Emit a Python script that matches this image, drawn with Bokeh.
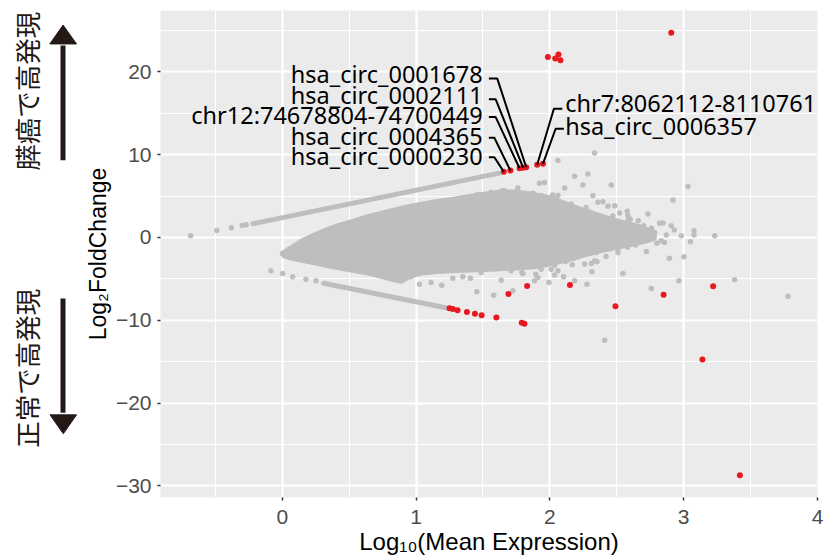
import numpy as np
from bokeh.plotting import figure
from bokeh.layouts import row
from bokeh.models import Range1d, FixedTicker
from bokeh.core.properties import value
from bokeh.embed import file_html
from bokeh.resources import INLINE

# ---------------- data ----------------
x_ticks = [0, 1, 2, 3, 4]
x_tick_labels = ["0", "1", "2", "3", "4"]
x_minor = [-0.5, 0.5, 1.5, 2.5, 3.5]
y_ticks = [-30, -20, -10, 0, 10, 20]
y_tick_labels = ["\u221230", "\u221220", "\u221210", "0", "10", "20"]
y_minor = [-25, -15, -5, 5, 15, 25]

# outline of the dense, overplotted part of the cloud (log10 mean, log2 FC)
cloud_x = [0.00, 0.05, 0.16, 0.29, 0.41, 0.54, 0.66, 0.79, 0.91, 1.04, 1.16, 1.29,
           1.40, 1.52, 1.64, 1.75, 1.88, 2.00, 2.13, 2.26, 2.38, 2.50, 2.62, 2.72, 2.78,
           2.78, 2.70, 2.60, 2.50, 2.38, 2.26, 2.13, 2.00, 1.90, 1.75, 1.60, 1.45, 1.30,
           1.16, 1.04, 0.95, 0.89, 0.86, 0.66, 0.41, 0.23, 0.14, 0.065, 0.015]
cloud_y = [-1.95, -1.40, -0.30, 0.65, 1.40, 2.00, 2.60, 3.10, 3.60, 4.00, 4.35, 4.65,
           4.95, 5.25, 5.50, 5.50, 5.20, 4.80, 4.00, 3.20, 2.60, 2.00, 1.50, 1.00, 0.50,
           -0.10, -0.50, -0.85, -1.20, -1.60, -2.10, -2.70, -3.20, -3.50, -3.70, -3.80, -3.90, -4.00,
           -4.10, -4.30, -4.70, -5.30, -5.20, -4.35, -3.63, -3.02, -2.74, -2.50, -2.20]

# the two "one-sided" bands (circRNAs detected in one group only)
band_x = [[-0.22, 1.64], [0.31, 1.24]]
band_y = [[1.65, 7.82], [-5.53, -8.55]]

grey_pts = [
    (-0.685, 0.20), (-0.49, 0.85), (-0.38, 1.18), (-0.30, 1.43), (-0.27, 1.52), (2.06, 9.29),
    (-0.085, -4.03), (0.003, -4.35), (0.078, -4.76), (0.177, -5.04), (0.252, -5.24),
    (0.003, -1.93), (0.02, -2.25), (0.065, -1.41), (0.08, -2.40),
    (1.46, 5.17), (1.56, 5.45), (1.636, 5.57), (1.66, 5.05), (1.656, 5.66), (1.76, 5.98),
    (1.922, 6.54), (1.96, 6.62), (2.11, 5.98), (2.06, 5.05), (1.935, 5.05), (1.86, 4.85),
    (1.77, 4.85), (1.873, 5.33), (2.02, 5.13),
    (2.334, 10.18), (2.185, 7.39), (2.284, 7.67), (2.247, 6.34), (2.459, 6.34), (3.032, 6.14),
    (2.322, 5.05), (2.920, 4.53), (2.160, 4.04), (2.359, 4.24), (2.396, 4.32), (2.434, 3.76),
    (2.484, 3.84), (2.304, 3.03), (2.521, 2.95), (2.578, 3.15), (2.733, 2.83), (2.583, 2.02),
    (2.583, 2.63), (2.384, 1.82), (2.434, 2.02), (2.820, 1.70), (2.845, 1.74), (2.907, 1.42),
    (2.733, 0.81), (2.783, 0.61), (2.683, 0.21), (3.077, 0.81), (3.077, 0.29), (2.982, 0.21),
    (3.232, 0.21), (3.05, -0.52), (2.857, -0.60), (2.833, -0.40), (2.683, -0.40), (2.721, -1.69),
    (2.509, -1.81), (2.508, -1.41), (2.893, -2.50), (3.002, -2.33), (2.222, -2.21), (2.234, -1.61),
    (2.347, -1.81), (2.334, -2.82), (2.26, -3.22), (2.31, -3.14), (2.352, -2.94), (2.167, -3.30),
    (2.546, -4.35), (2.314, -4.15), (2.185, -5.24), (2.277, -5.64), (1.993, -5.44), (2.102, -4.75),
    (2.035, -4.55), (1.895, -4.43), (1.885, -5.24), (1.723, -6.45), (2.758, -6.17), (2.965, -5.24),
    (3.381, -5.12), (3.780, -7.10), (2.01, -3.83), (1.935, -3.83), (1.79, -4.23),
    (0.963, -4.76), (1.025, -5.65), (1.112, -5.44), (1.192, -5.77), (1.274, -4.92), (1.349, -4.76),
    (1.406, -4.92), (1.486, -4.23), (1.561, -3.71), (1.636, -5.16), (1.91, -4.84), (2.035, -3.35),
    (2.06, -4.03), (1.798, -4.36), (1.71, -4.03), (1.454, -6.57), (1.58, -6.98), (2.41, -12.4),
    (2.60, 2.20), (2.66, 2.00), (2.47, 2.60), (2.20, 3.40), (2.27, 3.60), (2.14, 3.10),
    (2.05, -2.60), (2.12, -2.90), (2.18, -2.50), (2.42, -2.30), (2.58, -1.20), (2.64, -0.90),
    (2.75, -0.20), (2.87, 0.30), (2.93, 0.90), (2.70, 1.40), (2.76, 1.10), (2.80, -0.70),
]
grey_x = [p[0] for p in grey_pts]
grey_y = [p[1] for p in grey_pts]

# significant circRNAs (red)
red_x = [1.985, 2.040, 2.064, 2.079, 2.907,
         1.25, 1.275, 1.31, 1.38, 1.44, 1.49, 1.60, 1.79, 1.81,
         1.69, 1.83, 2.15, 2.49, 2.85, 3.22, 3.14, 3.42]
red_y = [21.79, 21.60, 22.08, 21.39, 24.70,
         -8.55, -8.65, -8.79, -9.00, -9.20, -9.40, -9.68, -10.30, -10.42,
         -6.84, -5.85, -5.75, -8.30, -6.91, -5.90, -14.75, -28.70]

# labelled circRNAs on the upper band
lab_names = ["hsa_circ_0000230", "hsa_circ_0004365", "chr12:74678804-74700449",
             "hsa_circ_0002111", "hsa_circ_0001678", "chr7:8062112-8110761",
             "hsa_circ_0006357"]
lab_pt_x = [1.656, 1.705, 1.773, 1.800, 1.823, 1.905, 1.948]
lab_pt_y = [7.92, 8.07, 8.35, 8.42, 8.47, 8.77, 8.89]

# ---------------- styling ----------------
GREY = "#BEBEBE"
RED = "#E8191E"
DARK = "#231815"
TICK_FONT = "Liberation Sans"

# label layout (repelled label positions)
lab_side = ["left", "left", "left", "left", "left", "right", "right"]
lab_tx = [1.497, 1.497, 1.497, 1.497, 1.497, 2.114, 2.114]
lab_ty = [9.79, 12.22, 14.73, 17.25, 19.78, 16.25, 13.43]
lab_dash_y = [9.69, 12.03, 14.53, 16.67, 19.18, 15.54, 13.12]
lab_dash_x0 = [1.544, 1.544, 1.544, 1.544, 1.544, 2.093, 2.105]
lab_dash_x1 = [1.585, 1.585, 1.595, 1.595, 1.607, 2.030, 2.043]

# ---------------- main panel ----------------
LEFT_W = 78
p = figure(width=824 - LEFT_W, height=558,
           x_range=Range1d(-0.91, 4.0), y_range=Range1d(-31.4, 27.4),
           output_backend="svg", toolbar_location=None,
           min_border_left=82, min_border_right=7, min_border_top=10, min_border_bottom=61)
p.background_fill_color = "#EBEBEB"
p.border_fill_color = "white"
p.outline_line_color = None

xt = FixedTicker(ticks=x_ticks, minor_ticks=x_minor)
yt = FixedTicker(ticks=y_ticks, minor_ticks=y_minor)
p.xaxis.ticker = xt
p.yaxis.ticker = yt
p.xgrid.ticker = xt
p.ygrid.ticker = yt
p.xaxis.major_label_overrides = {float(t): s for t, s in zip(x_ticks, x_tick_labels)}
p.yaxis.major_label_overrides = {float(t): s for t, s in zip(y_ticks, y_tick_labels)}

for ax in (p.xaxis, p.yaxis):
    ax.axis_line_color = None
    ax.major_tick_in = 0
    ax.major_tick_out = 3
    ax.major_tick_line_color = "#333333"
    ax.major_tick_line_width = 1.5
    ax.minor_tick_line_color = None
    ax.major_label_text_font = TICK_FONT
    ax.major_label_text_font_size = "21px"
    ax.major_label_text_color = "#4D4D4D"
    ax.axis_label_text_font = TICK_FONT
    ax.axis_label_text_font_style = "normal"
    ax.axis_label_text_color = "black"

p.xaxis.axis_label = "Log\u2081\u2080(Mean Expression)"
p.xaxis.axis_label_text_font_size = "24px"
p.xaxis.major_label_standoff = 8
p.xaxis.axis_label_standoff = 1
p.yaxis.axis_label = "Log\u2082FoldChange"
p.yaxis.axis_label_text_font_size = "23px"
p.yaxis.major_label_standoff = 5
p.yaxis.axis_label_standoff = 2

for g in (p.xgrid, p.ygrid):
    g.grid_line_color = "white"
    g.grid_line_width = 2.2
    g.minor_grid_line_color = "white"
    g.minor_grid_line_width = 1.1

# cloud, bands, points
p.patch(cloud_x, cloud_y, fill_color=GREY, line_color=GREY, line_width=5, line_join="round")
p.multi_line(band_x, band_y, line_color=GREY, line_width=5, line_cap="round")
p.scatter(grey_x, grey_y, size=5.5, fill_color=GREY, line_color=None)
p.scatter(red_x + lab_pt_x, red_y + lab_pt_y, size=6, fill_color=RED, line_color=None)

# leader lines
lead_xs = [[x0, x1, px] for x0, x1, px in zip(lab_dash_x0, lab_dash_x1, lab_pt_x)]
lead_ys = [[dy, dy, py] for dy, py in zip(lab_dash_y, lab_pt_y)]
p.multi_line(lead_xs, lead_ys, line_color="black", line_width=2)

for side in ("left", "right"):
    idx = [i for i, s in enumerate(lab_side) if s == side]
    p.text(x=[lab_tx[i] for i in idx], y=[lab_ty[i] for i in idx],
           text=[lab_names[i] for i in idx],
           text_align="right" if side == "left" else "left", text_baseline="middle",
           text_font=value("Noto Sans"), text_font_size="23.5px", text_color="black")

# ---------------- left strip with direction arrows ----------------
q = figure(width=LEFT_W, height=558, x_range=Range1d(0, LEFT_W), y_range=Range1d(0, 558),
           output_backend="svg", toolbar_location=None, min_border=0,
           x_axis_location=None, y_axis_location=None)
q.grid.visible = False
q.outline_line_color = None
q.background_fill_color = "white"
q.border_fill_color = "white"

H = 558
q.text(x=[25.8, 25.8], y=[H - 92.5, H - 410], text=["膵癌で高発現", "正常で高発現"],
       angle=np.pi / 2, text_align="center", text_baseline="middle",
       text_font=value("Noto Sans CJK JP"), text_font_size="26.5px", text_color=DARK)
q.segment(x0=[62.5, 62.5], y0=[H - 171.7, H - 330], x1=[62.5, 62.5], y1=[H - 40, H - 461],
          line_color=DARK, line_width=5)
q.patches(xs=[[49.3, 76, 62.6], [49.5, 76, 62.8]],
          ys=[[H - 38.3, H - 38.3, H - 16.7], [H - 463.3, H - 463.3, H - 485]],
          fill_color=DARK, line_color=DARK, line_width=1)

layout = row(q, p)
open("out.html", "w").write(file_html(layout, INLINE))
